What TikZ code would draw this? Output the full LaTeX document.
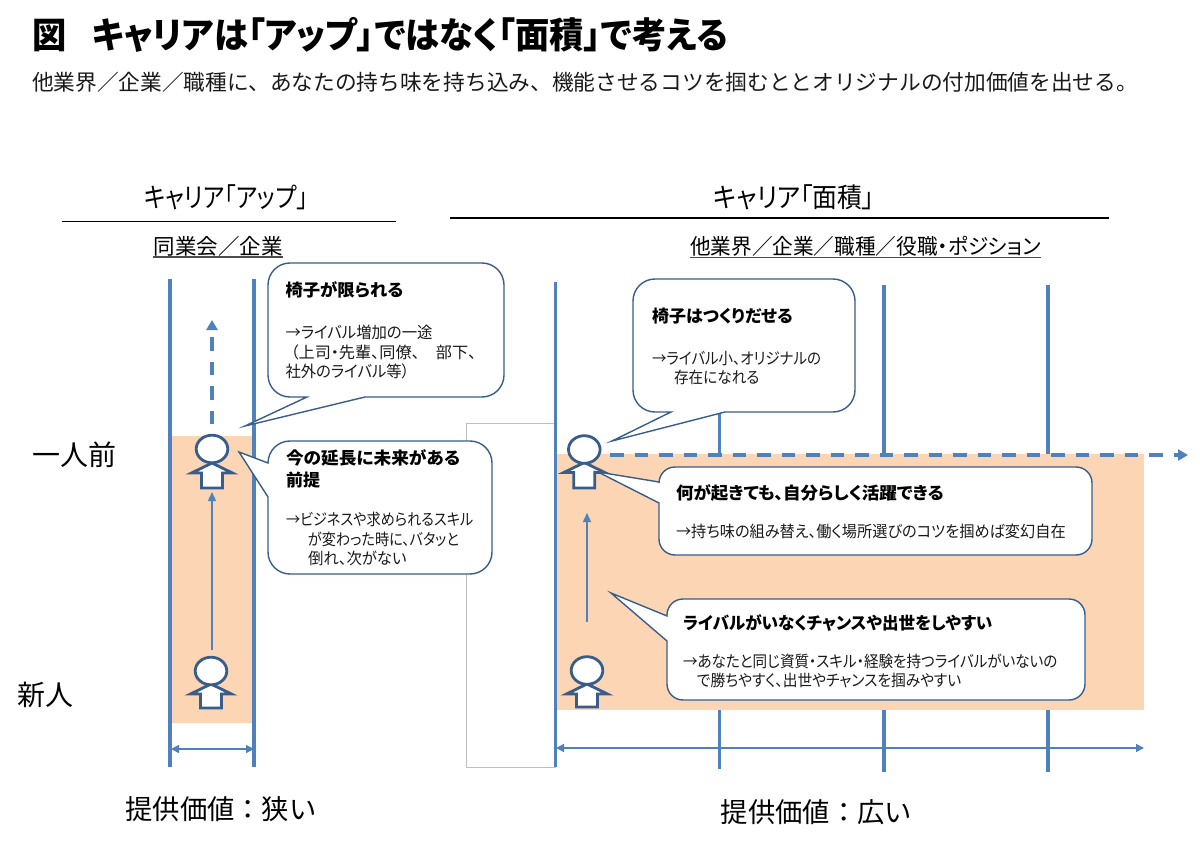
\documentclass[tikz,border=0pt]{standalone}
\usepackage{fontspec}
\usepackage{graphicx}
\setmainfont[RawFeature={+palt}]{Noto Sans CJK JP}
\newfontfamily\monojp{Noto Sans CJK JP}
\usetikzlibrary{arrows.meta}
\definecolor{axisblue}{HTML}{4F81BD}
\definecolor{edgeblue}{HTML}{385D8A}
\definecolor{peach}{HTML}{FCD5B5}
\definecolor{inkgrey}{HTML}{1A1A1A}
\newcommand\sz[2]{\fontsize{#1}{#2}\selectfont}
% Horizontal condensing of a line of text
\newcommand\xs[2]{\scalebox{#1}[1]{#2}}
\tikzset{
  x=1pt, y=-1pt,
  txt/.style={inner sep=0pt, outer sep=0pt, text=inkgrey, align=left},
  head/.style={txt, anchor=west, text=black, font=\sz{17}{22}\bfseries},
  body/.style={txt, anchor=north west, font=\sz{16}{19.6}},
  label/.style={txt, text=black, font=\sz{28}{32}},
  valuelabel/.style={txt, text=black, font=\monojp\sz{27.3}{32}},
  axis/.style={draw=axisblue, line width=3.4pt},
  thinarrow/.style={draw=axisblue, line width=1.4pt, -{Triangle[length=9pt,width=8pt]}},
  spanarrow/.style={draw=axisblue, line width=1.5pt, {Triangle[length=8pt,width=8pt]}-{Triangle[length=8pt,width=8pt]}},
  dasharrow/.style={draw=axisblue, line width=3.4pt, dash pattern=on 13.5pt off 11pt, -{Triangle[length=10pt,width=11pt]}},
  bubble/.style={draw=edgeblue, fill=white, line width=1.4pt, line join=miter},
  personbody/.style={draw=edgeblue, fill=white, line width=2.8pt, line join=miter},
  rulerline/.style={draw=black, line width=1.3pt},
  underl/.style={draw=black!70, line width=1.2pt},
}
% Rounded speech bubble with its tail leaving the bottom edge
% #1-#4 box corners, #5 tail start x, #6 tail tip, #7 tail end x
\newcommand\bubblebottom[7]{%
  \path[bubble] ({(#1+#3)/2},#2) [rounded corners=22pt] -- (#3,#2) -- (#3,#4)
    [sharp corners] -- (#7,#4) -- #6 -- (#5,#4) [rounded corners=22pt] -- (#1,#4) -- (#1,#2) -- cycle;}
% Rounded speech bubble with its tail leaving the left edge
% #1-#4 box corners, #5 tail start y, #6 tail tip, #7 tail end y, #8 corner radius
\newcommand\bubbleleft[8]{%
  \path[bubble] ({(#1+#3)/2},#2) [rounded corners=#8] -- (#3,#2) -- (#3,#4) -- (#1,#4)
    [sharp corners] -- (#1,#7) -- #6 -- (#1,#5) [rounded corners=#8] -- (#1,#2) -- cycle;}
% Person icon: head centre x and y, wing line y, foot y
\newcommand\personicon[4]{%
  \path[personbody] (#1,#3-10) -- (#1+20.5,#3) -- (#1+10.5,#3) -- (#1+10.5,#4) -- (#1-10.5,#4) -- (#1-10.5,#3) -- (#1-20.5,#3) -- cycle;
  \path[personbody] (#1,#2) ellipse [x radius=15.8, y radius=13.8];}
\begin{document}
\begin{tikzpicture}
\useasboundingbox (0,0) rectangle (1200,845);
\fill[white] (0,0) rectangle (1200,845);

% Heading
\node[txt, anchor=west, text=black, font=\sz{36}{40}\bfseries] (title) at (32,35) {\xs{.952}{図\hspace*{27pt}キャリアは「アップ」ではなく「面積」で考える}};
\node[txt, anchor=west, text=inkgrey, font=\monojp\sz{21.7}{26}] (subtitle) at (32,82) {他業界／企業／職種に、あなたの持ち味を持ち込み、機能させるコツを掴むととオリジナルの付加価値を出せる。};

% Column headers
\node[txt, anchor=center, text=black, font=\sz{27}{30}] (lefthead) at (226,197) {\xs{.85}{キャリア「アップ」}};
\node[txt, anchor=center, text=black, font=\sz{27}{30}] (righthead) at (794,197) {\xs{.92}{キャリア「面積」}};
\draw[rulerline] (62,221.5) -- (396,221.5);
\draw[rulerline] (450,218) -- (1109,218);
\node[txt, anchor=center, text=black, font=\sz{21.5}{26}] (leftsub) at (218,246) {同業会／企業};
\node[txt, anchor=center, text=black, font=\sz{21.5}{26}] (rightsub) at (865.5,246) {\xs{.96}{他業界／企業／職種／役職・ポジション}};
\draw[underl] (153,257) -- (283,257);
\draw[underl] (690,257.5) -- (1041,257.5);

% Row labels
\node[label, anchor=center] (senior) at (74,455) {一人前};
\node[label, anchor=center] (junior) at (45,695) {新人};
\node[valuelabel, anchor=center] (narrow) at (221,809) {提供価値：狭い};
\node[valuelabel, anchor=center] (wide) at (816.5,812) {提供価値：広い};

% Ghost frame between the two columns
\draw[draw=black!25, fill=white, line width=1pt] (466.5,423.5) rectangle (555,767);

% Axes of the wide column, interrupted by the peach area
\draw[axis] (719.5,412) -- (719.5,769);
\draw[axis] (884,285) -- (884,772);
\draw[axis] (1048,285) -- (1048,772);

% Peach areas
\fill[peach] (171,436) rectangle (256,723);
\fill[peach] (556,454) rectangle (1144,709.5);

% Remaining axes
\draw[axis] (170,279) -- (170,767);
\draw[axis] (254,279) -- (254,767);
\draw[axis] (555.5,282) -- (555.5,767);

% Growth and span arrows
\draw[dasharrow] (212,424) -- (212,320);
\draw[dasharrow] (610,455) -- (1188,455);
\draw[thinarrow] (212,650) -- (212,492);
\draw[thinarrow] (587,622) -- (587,513);
\draw[spanarrow] (171,749) -- (254,749);
\draw[spanarrow] (556,748) -- (1144,748);

% People
\personicon{212}{449}{473}{488}
\personicon{211}{671}{694}{708}
\personicon{584.3}{449.5}{472.5}{488}
\personicon{587}{670.5}{694}{707}

% Speech bubbles
\bubblebottom{268}{263}{504}{397}{307}{(245,426)}{365}
\node[head] (b1h) at (285.5,290) {\xs{1.02}{椅子が限られる}};
\node[body] (b1t) at (285.5,325) {\xs{.96}{→ライバル増加の一途}\\\hspace*{5pt}\xs{1.01}{（上司・先輩、同僚、　部下、}\\\xs{.96}{社外のライバル等）}};

\bubbleleft{268}{441}{492}{574}{463}{(239,452)}{497}{22pt}
\node[head, anchor=north west, font=\sz{17}{22}\bfseries] (b2h) at (286,449.5) {\xs{1.04}{今の延長に未来がある}\\前提};
\node[body] (b2t) at (286,512) {\xs{.885}{→ビジネスや求められるスキル}\\\hspace*{22pt}\xs{.885}{が変わった時に、バタッと}\\\hspace*{22pt}\xs{.96}{倒れ、次がない}};

\bubblebottom{633}{279}{855}{412}{671}{(612,441)}{725}
\node[head] (b3h) at (652,316) {椅子はつくりだせる};
\node[body] (b3t) at (652,351) {\xs{.905}{→ライバル小、オリジナルの}\\\hspace*{22pt}\xs{.915}{存在になれる}};

\bubbleleft{659}{467}{1092}{555}{482}{(598,472)}{503}{16pt}
\node[head] (b4h) at (676,492.5) {\xs{1.03}{何が起きても、自分らしく活躍できる}};
\node[body] (b4t) at (676,524.5) {\xs{.95}{→持ち味の組み替え、働く場所選びのコツを掴めば変幻自在}};

\bubbleleft{667}{599}{1085}{700}{616}{(611,593)}{641}{16pt}
\node[head] (b5h) at (683,622.5) {\xs{.975}{ライバルがいなくチャンスや出世をしやすい}};
\node[body] (b5t) at (683,653.5) {\xs{.91}{→あなたと同じ資質・スキル・経験を持つライバルがいないの}\\\hspace*{14pt}\xs{.92}{で勝ちやすく、出世やチャンスを掴みやすい}};
\end{tikzpicture}
\end{document}
